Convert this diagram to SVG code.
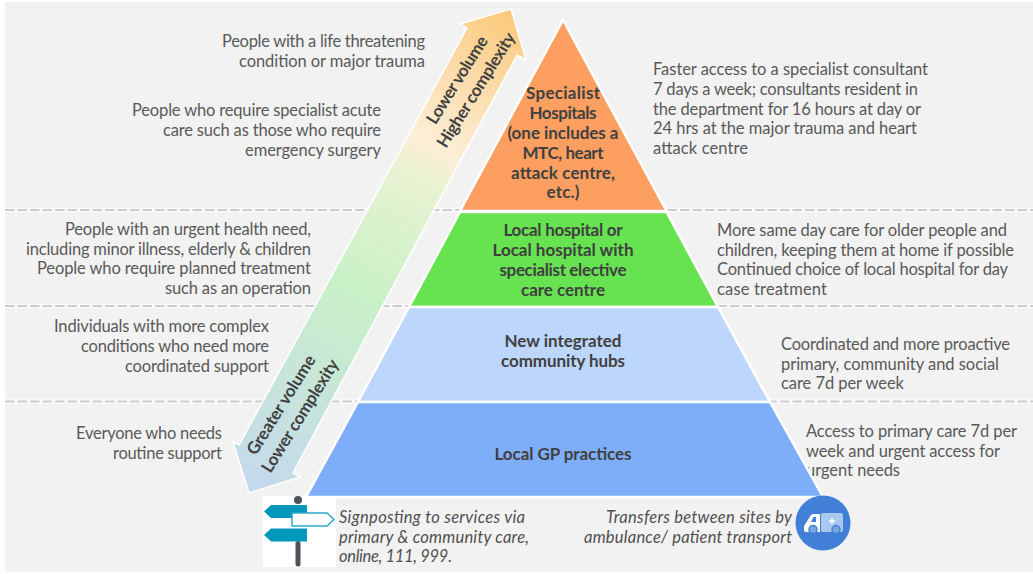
<svg xmlns="http://www.w3.org/2000/svg" width="1033" height="574" viewBox="0 0 1033 574">
<style>
text{font-family:"Lato","Noto Sans","Liberation Sans",sans-serif;font-size:16.500px;fill:#595959}
.r{text-anchor:end}
.b{font-weight:700;fill:#404040;text-anchor:middle;font-size:17px}
.i{font-style:italic;fill:#505050}
.tier{stroke:#fff;stroke-width:2.5}
.d1{stroke:#fbfbfb;stroke-width:4.500}
.d2{stroke:#cdcdcd;stroke-width:2;stroke-dasharray:9.500 3}
</style>
<defs>
<linearGradient id="ag" gradientUnits="userSpaceOnUse" x1="511" y1="12" x2="245" y2="490">
<stop offset="0" stop-color="#fbc97a"/>
<stop offset="0.28" stop-color="#fdeed8"/>
<stop offset="0.35" stop-color="#e8f2d2"/>
<stop offset="0.58" stop-color="#c9f1c7"/>
<stop offset="1" stop-color="#c4d8ee"/>
</linearGradient>
</defs>
<rect id="background" x="5" y="2" width="1028" height="570" fill="#f2f2f2"/>
<g id="bands">
<path class="d1" d="M5 210H1033M5 306H1033M5 401.500H1033"/>
<path class="d2" d="M5 210H1033M5 306H1033M5 401.500H1033"/>
</g>
<g id="left-text">
<text class="r" x="425" y="47" textLength="203">People with a life threatening</text>
<text class="r" x="425" y="67" textLength="186">condition or major trauma</text>
<text class="r" x="381" y="116" textLength="249">People who require specialist acute</text>
<text class="r" x="381" y="136" textLength="218">care such as those who require</text>
<text class="r" x="381" y="156" textLength="136">emergency surgery</text>
<text class="r" x="311" y="235" textLength="246">People with an urgent health need,</text>
<text class="r" x="311" y="255" textLength="285">including minor illness, elderly &amp; children</text>
<text class="r" x="311" y="274" textLength="274">People who require planned treatment</text>
<text class="r" x="311" y="294" textLength="146">such as an operation</text>
<text class="r" x="269" y="332" textLength="215">Individuals with more complex</text>
<text class="r" x="269" y="352" textLength="188">conditions who need more</text>
<text class="r" x="269" y="372" textLength="144">coordinated support</text>
<text class="r" x="222" y="439" textLength="146">Everyone who needs</text>
<text class="r" x="222" y="459" textLength="109">routine support</text>
</g>
<g id="right-text">
<text x="653" y="75" textLength="275">Faster access to a specialist consultant</text>
<text x="653" y="95" textLength="265">7 days a week; consultants resident in</text>
<text x="653" y="115" textLength="268">the department for 16 hours at day or</text>
<text x="653" y="134" textLength="264">24 hrs at the major trauma and heart</text>
<text x="653" y="154" textLength="95">attack centre</text>
<text x="717" y="236" textLength="290">More same day care for older people and</text>
<text x="717" y="256" textLength="297">children, keeping them at home if possible</text>
<text x="717" y="275" textLength="291">Continued choice of local hospital for day</text>
<text x="717" y="295" textLength="110">case treatment</text>
<text x="781" y="350" textLength="229">Coordinated and more proactive</text>
<text x="781" y="370" textLength="218">primary, community and social</text>
<text x="781" y="389" textLength="123">care 7d per week</text>
<text x="806" y="437" textLength="211">Access to primary care 7d per</text>
<text x="806" y="457" textLength="194">week and urgent access for</text>
<text x="806" y="476" textLength="94">urgent needs</text>
</g>
<g id="tier-specialist">
<path class="tier" fill="#fd9f60" d="M563 20L666.500 211H460Z"/>
<text class="b" x="563" y="99" textLength="74">Specialist</text>
<text class="b" x="563" y="119" textLength="67">Hospitals</text>
<text class="b" x="563" y="139" textLength="111">(one includes a</text>
<text class="b" x="563" y="159" textLength="81">MTC, heart</text>
<text class="b" x="563" y="179" textLength="104">attack centre,</text>
<text class="b" x="563" y="198" textLength="33">etc.)</text>
</g>
<g id="tier-local-hospital">
<path class="tier" fill="#67e250" d="M460 212H666.500L718 307H409Z"/>
<text class="b" x="563" y="236" textLength="119">Local hospital or</text>
<text class="b" x="563" y="256" textLength="141">Local hospital with</text>
<text class="b" x="563" y="276" textLength="127">specialist elective</text>
<text class="b" x="563" y="296" textLength="84">care centre</text>
</g>
<g id="tier-community">
<path class="tier" fill="#bdd6fb" d="M409 307H718L770 402H358Z"/>
<text class="b" x="563" y="347" textLength="117">New integrated</text>
<text class="b" x="563" y="367" textLength="124">community hubs</text>
</g>
<g id="tier-gp">
<path class="tier" fill="#7eaefa" d="M358 402H770L823 497H306Z"/>
<text class="b" x="563" y="460" textLength="137">Local GP practices</text>
</g>
<g id="connectors">
<path id="volume-arrow" fill="url(#ag)" stroke="#fff" stroke-width="1.500" d="M511 9L526 60L517 55L293 473L300 477L249 493L233 442L239 445L467 28L460 24Z"/>
<text class="b" transform="translate(462 83) rotate(-58)" textLength="100">Lower volume</text>
<text class="b" transform="translate(481 93) rotate(-58)" textLength="132">Higher complexity</text>
<text class="b" transform="translate(286 408) rotate(-58)" textLength="114">Greater volume</text>
<text class="b" transform="translate(305 419) rotate(-58)" textLength="130">Lower complexity</text>
</g>
<g id="signpost">
<rect x="263" y="496" width="73" height="71" fill="#fff"/>
<rect x="295.500" y="541" width="5" height="25.500" rx="2.500" fill="#4d5359"/>
<circle cx="298" cy="500" r="4" fill="#4d5359"/>
<path fill="#0097bd" d="M271 505H307V518H271L264 511.500Z"/>
<path fill="#0097bd" d="M271 528.500H307V541.500H271L264 535Z"/>
<path fill="#fff" stroke="#2fa9c8" stroke-width="1.500" d="M292 513H327L334 519.500L327 526H292Z"/>
</g>
<g id="signpost-text">
<text class="i" x="339" y="523" textLength="186">Signposting to services via</text>
<text class="i" x="339" y="543" textLength="190">primary &amp; community care,</text>
<text class="i" x="339" y="562" textLength="113">online, 111, 999.</text>
</g>
<g id="transfer-text">
<text class="i r" x="792" y="523" textLength="186">Transfers between sites by</text>
<text class="i r" x="792" y="543" textLength="208">ambulance/ patient transport</text>
</g>
<g id="ambulance">
<circle cx="823" cy="523" r="27.500" fill="#4180d6"/>
<rect x="821" y="513" width="22" height="19" rx="2" fill="#a9c8f0"/>
<path fill="#fff" d="M804 530V526L811 515Q812 514 814 514H820V532H806Q804 532 804 530Z"/>
<path fill="#4180d6" d="M811 522L813.500 517H816V522Z"/>
<path stroke="#fff" stroke-width="1.500" d="M832 518V524M829 521H835"/>
<circle cx="813" cy="529.500" r="4" fill="#7aa6e4" stroke="#4180d6" stroke-width="1.500"/>
<circle cx="836" cy="529.500" r="4" fill="#7aa6e4" stroke="#4180d6" stroke-width="1.500"/>
</g>
</svg>
